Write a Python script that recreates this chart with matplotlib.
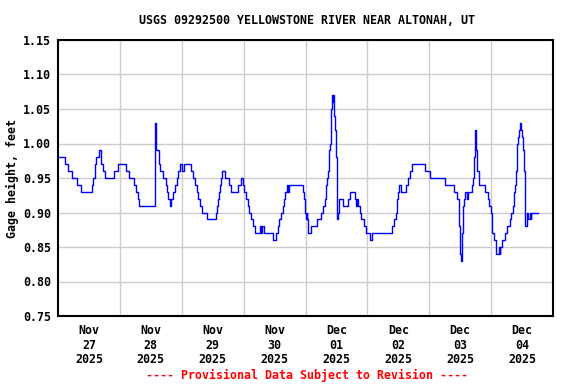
import matplotlib
matplotlib.use('Agg')
import matplotlib.pyplot as plt
import pandas as pd

# hours after Nov 27 00:00 at which the gage reading changes, and the new reading
hours = [0.0, 2.8, 3.9, 5.4, 7.2, 8.9, 13.2, 13.7, 14.2, 14.7, 15.9, 16.8, 17.4, 18.1,
         21.7, 23.2, 26.2, 27.4, 29.4, 30.2, 31.0, 31.6, 37.7, 38.0, 39.0, 39.7, 40.8,
         41.8, 42.3, 42.8, 43.4, 43.9, 44.5, 45.2, 46.0, 46.7, 47.5, 48.1, 48.9, 51.6,
         52.5, 53.3, 53.8, 54.2, 55.1, 55.9, 57.7, 61.3, 61.7, 62.1, 62.6, 62.8, 63.1,
         63.5, 64.6, 66.5, 67.0, 69.7, 71.0, 71.6, 72.3, 72.9, 73.6, 74.2, 75.0, 75.7,
         76.5, 78.5, 78.8, 79.1, 80.0, 83.2, 84.5, 85.2, 85.8, 86.5, 87.1, 87.6, 88.1,
         88.9, 89.2, 89.7, 95.1, 95.5, 95.8, 96.0, 96.4, 96.6, 96.8, 98.3, 100.5, 102.2,
         102.8, 103.5, 103.8, 104.1, 104.5, 104.8, 105.0, 105.2, 105.5, 105.7, 105.9,
         106.1, 106.4, 106.6, 106.8, 107.0, 107.2, 107.4, 107.9, 108.3, 108.6, 109.0,
         110.6, 112.5, 113.3, 115.1, 115.7, 116.1, 116.4, 117.2, 117.7, 118.5, 119.4,
         120.9, 121.8, 129.5, 130.3, 131.0, 131.3, 131.6, 132.0, 132.3, 133.2, 135.1,
         135.8, 136.4, 137.4, 142.3, 144.4, 150.0, 153.7, 154.7, 155.5, 155.8, 156.0,
         156.3, 156.8, 157.0, 157.3, 157.7, 158.8, 159.1, 160.4, 161.0, 161.3, 161.6,
         161.9, 162.2, 162.6, 163.2, 165.6, 166.7, 167.2, 168.0, 168.3, 168.5, 169.0,
         169.7, 170.0, 171.0, 171.3, 171.6, 172.3, 173.2, 174.2, 175.2, 175.7, 176.3,
         176.7, 177.0, 177.4, 177.7, 178.0, 178.2, 178.5, 178.7, 179.2, 179.5, 179.8,
         180.3, 180.8, 181.2, 181.9, 182.3, 183.2, 183.4, 183.6, 186.2]
stage = [0.98, 0.97, 0.96, 0.95, 0.94, 0.93, 0.94, 0.95, 0.97, 0.98, 0.99, 0.97, 0.96, 0.95,
         0.96, 0.97, 0.96, 0.95, 0.94, 0.93, 0.92, 0.91, 1.03, 0.99, 0.97, 0.96, 0.95,
         0.94, 0.93, 0.92, 0.91, 0.92, 0.93, 0.94, 0.95, 0.96, 0.97, 0.96, 0.97, 0.96,
         0.95, 0.94, 0.93, 0.92, 0.91, 0.90, 0.89, 0.90, 0.91, 0.92, 0.93, 0.94, 0.95,
         0.96, 0.95, 0.94, 0.93, 0.94, 0.95, 0.94, 0.93, 0.92, 0.91, 0.90, 0.89, 0.88,
         0.87, 0.88, 0.87, 0.88, 0.87, 0.86, 0.87, 0.88, 0.89, 0.90, 0.91, 0.92, 0.93,
         0.94, 0.93, 0.94, 0.93, 0.92, 0.90, 0.89, 0.90, 0.89, 0.87, 0.88, 0.89, 0.90,
         0.91, 0.92, 0.93, 0.94, 0.95, 0.96, 0.97, 0.99, 1.00, 1.04, 1.05,
         1.06, 1.07, 1.06, 1.07, 1.05, 1.04, 1.02, 0.98, 0.89, 0.90, 0.92,
         0.91, 0.92, 0.93, 0.92, 0.91, 0.92, 0.91, 0.90, 0.89, 0.88, 0.87,
         0.86, 0.87, 0.88, 0.89, 0.90, 0.91, 0.92, 0.93, 0.94, 0.93, 0.94,
         0.95, 0.96, 0.97, 0.96, 0.95, 0.94, 0.93, 0.92, 0.88, 0.86, 0.84,
         0.83, 0.87, 0.91, 0.92, 0.93, 0.92, 0.93, 0.94, 0.95, 0.98, 1.00,
         1.02, 0.99, 0.96, 0.94, 0.93, 0.92, 0.91, 0.90, 0.89, 0.87, 0.86,
         0.85, 0.84, 0.85, 0.84, 0.85, 0.86, 0.87, 0.88, 0.89, 0.90, 0.91,
         0.92, 0.93, 0.94, 0.96, 0.98, 1.00, 1.01, 1.02, 1.03, 1.02, 1.01,
         0.99, 0.96, 0.88, 0.90, 0.89, 0.90, 0.89, 0.90, 0.90]

day_labels = ['Nov\n27\n2025', 'Nov\n28\n2025', 'Nov\n29\n2025', 'Nov\n30\n2025',
              'Dec\n01\n2025', 'Dec\n02\n2025', 'Dec\n03\n2025', 'Dec\n04\n2025']
y_ticks = [0.75, 0.80, 0.85, 0.90, 0.95, 1.00, 1.05, 1.10, 1.15]

start = pd.Timestamp('2025-11-27 00:00')
times = start + pd.to_timedelta(hours, unit='h')
midnights = [start + pd.Timedelta(days=d) for d in range(1, 8)]
noons = [start + pd.Timedelta(hours=12 + 24 * d) for d in range(8)]

font = dict(family='DejaVu Sans Mono', weight='bold', size=8.4)

fig = plt.figure(figsize=(5.76, 3.84), dpi=100)
ax = fig.add_axes([58 / 576, 68 / 384, 495 / 576, 276 / 384])

ax.plot(times, stage, color='#0000ff', lw=1, drawstyle='steps-post', zorder=3)

ax.set_xlim(start, start + pd.Timedelta(days=8))
ax.set_ylim(0.75, 1.15)

# gridlines at midnight, day labels at noon
ax.set_xticks(midnights, labels=[''] * len(midnights))
ax.set_xticks(noons, labels=day_labels, minor=True)
ax.set_yticks(y_ticks, labels=['%.2f' % v for v in y_ticks])
ax.grid(True, which='major', color='#cccccc', lw=1)
ax.tick_params(which='both', length=0)
ax.tick_params(axis='x', which='minor', pad=6)
ax.tick_params(axis='y', pad=5)
for lab in ax.get_xticklabels(minor=True) + ax.get_yticklabels():
    lab.set_fontproperties(font)
    lab.set_fontsize(8.4)
for lab in ax.get_xticklabels(minor=True):
    lab.set_linespacing(1.15)

for s in ax.spines.values():
    s.set_linewidth(1.5)

ax.set_ylabel('Gage height, feet', fontdict=font, labelpad=3)

fig.text(307 / 576, 1 - 20 / 384, 'USGS 09292500 YELLOWSTONE RIVER NEAR ALTONAH, UT',
         ha='center', va='center', **font)
fig.text(307 / 576, 1 - 375 / 384, '---- Provisional Data Subject to Revision ----',
         ha='center', va='center', color='red', **font)

fig.savefig('out.png', dpi=100)
